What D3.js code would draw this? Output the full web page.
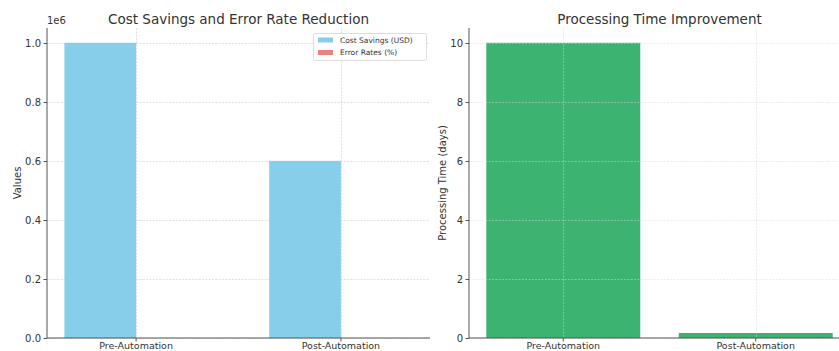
<!DOCTYPE html>
<html>
<head>
<meta charset="utf-8">
<script src="https://cdn.jsdelivr.net/npm/d3@7"></script>
<style>
body{margin:0;background:#fff;}
svg{display:block;font-family:"DejaVu Sans",sans-serif;}
</style>
</head>
<body>
<svg id="chart" width="839" height="351"></svg>
<script>
const categories = ["Pre-Automation", "Post-Automation"];
const costSavings = [1000000, 600000];
const errorRates = [5, 1];
const processingTime = [10, 0.17];
const leftTicks = [0, 0.2, 0.4, 0.6, 0.8, 1.0];
const rightTicks = [0, 2, 4, 6, 8, 10];

const svg = d3.select("#chart");
const textColor = "#333";
const spineColor = "#555";
const gridColor = "#d8d8d8";

function drawAxes(g, x, y, x0, x1, yTop, yBot, yTicks, fmt) {
  g.append("line").attr("x1", x0).attr("x2", x0).attr("y1", yTop).attr("y2", yBot)
    .attr("stroke", spineColor).attr("stroke-width", 1);
  g.append("line").attr("x1", x0).attr("x2", x1).attr("y1", yBot).attr("y2", yBot)
    .attr("stroke", spineColor).attr("stroke-width", 1);
  yTicks.forEach(t => {
    const yy = Math.round(y(t)) + 0.5;
    g.append("line").attr("x1", x0 - 3.5).attr("x2", x0).attr("y1", yy).attr("y2", yy)
      .attr("stroke", spineColor);
    g.append("text").attr("x", x0 - 6).attr("y", yy).attr("dy", "0.35em")
      .attr("text-anchor", "end").attr("font-size", 10).attr("fill", textColor).text(fmt(t));
  });
  categories.forEach((c, i) => {
    const xx = x(i);
    g.append("line").attr("x1", xx).attr("x2", xx).attr("y1", yBot).attr("y2", yBot + 3.5)
      .attr("stroke", spineColor);
    g.append("text").attr("x", xx).attr("y", yBot + 11).attr("text-anchor", "middle")
      .attr("font-size", 9.5).attr("fill", textColor).text(c);
  });
}

function drawGrid(g, x, y, x0, x1, yTop, yBot, yTicks, opacity) {
  yTicks.forEach(t => {
    const yy = Math.round(y(t)) + 0.5;
    g.append("line").attr("x1", x0).attr("x2", x1).attr("y1", yy).attr("y2", yy)
      .attr("stroke", gridColor).attr("stroke-dasharray", "2,1.3").attr("stroke-width", 0.8)
      .attr("opacity", opacity);
  });
  categories.forEach((c, i) => {
    const xx = Math.round(x(i)) + 0.5;
    g.append("line").attr("x1", xx).attr("x2", xx).attr("y1", yTop).attr("y2", yBot)
      .attr("stroke", gridColor).attr("stroke-dasharray", "2,1.3").attr("stroke-width", 0.8)
      .attr("opacity", opacity);
  });
}

// ---------- Left chart ----------
{
  const x0 = 47, x1 = 430, yTop = 28, yBot = 338;
  const bw = 0.35;
  const x = d3.scaleLinear().domain([-bw - 0.085, 1 + bw + 0.085]).range([x0, x1]);
  const y = d3.scaleLinear().domain([0, 1.05e6]).range([yBot, yTop]);
  const g = svg.append("g");
  drawGrid(g, x, v => y(v * 1e6), x0, x1, yTop, yBot, leftTicks, 1);
  g.selectAll(".cs").data(costSavings).enter().append("rect")
    .attr("x", (d, i) => x(i - bw))
    .attr("width", x(bw) - x(0))
    .attr("y", d => y(d)).attr("height", d => yBot - y(d))
    .attr("fill", "#87CEEB");
  g.selectAll(".er").data(errorRates).enter().append("rect")
    .attr("x", (d, i) => x(i))
    .attr("width", x(bw) - x(0))
    .attr("y", d => y(d)).attr("height", d => yBot - y(d))
    .attr("fill", "#F08080");
  drawAxes(g, x, v => y(v * 1e6), x0, x1, yTop, yBot, leftTicks, d3.format(".1f"));
  g.append("text").attr("x", x0).attr("y", 24).attr("font-size", 10).attr("fill", textColor).text("1e6");
  g.append("text").attr("x", (x0 + x1) / 2).attr("y", 23.5).attr("text-anchor", "middle")
    .attr("font-size", 13.5).attr("fill", textColor).text("Cost Savings and Error Rate Reduction");
  g.append("text").attr("transform", `translate(21,${(yTop + yBot) / 2}) rotate(-90)`)
    .attr("text-anchor", "middle").attr("font-size", 10).attr("fill", textColor).text("Values");
  const lg = g.append("g");
  lg.append("rect").attr("x", 313.5).attr("y", 33.5).attr("width", 113).attr("height", 27)
    .attr("fill", "#fff").attr("fill-opacity", 0.8).attr("stroke", "#ddd").attr("rx", 2);
  const items = [["Cost Savings (USD)", "#87CEEB"], ["Error Rates (%)", "#F08080"]];
  items.forEach((it, i) => {
    const cy = 40 + i * 12.5;
    lg.append("rect").attr("x", 318).attr("y", cy - 2.5).attr("width", 15).attr("height", 5).attr("fill", it[1]);
    lg.append("text").attr("x", 340).attr("y", cy).attr("dy", "0.35em")
      .attr("font-size", 7.5).attr("fill", textColor).text(it[0]);
  });
}

// ---------- Right chart ----------
{
  const x0 = 469, x1 = 850, yTop = 28, yBot = 338;
  const bw = 0.8;
  const x = d3.scaleLinear().domain([-bw / 2 - 0.09, 1 + bw / 2 + 0.09]).range([x0, x1]);
  const y = d3.scaleLinear().domain([0, 10.5]).range([yBot, yTop]);
  const g = svg.append("g");
  g.selectAll(".pt").data(processingTime).enter().append("rect")
    .attr("x", (d, i) => x(i - bw / 2))
    .attr("width", x(bw) - x(0))
    .attr("y", d => y(d)).attr("height", d => yBot - y(d))
    .attr("fill", "#3CB371");
  drawGrid(g, x, y, x0, x1, yTop, yBot, rightTicks, 0.6);
  drawAxes(g, x, y, x0, x1, yTop, yBot, rightTicks, d3.format("d"));
  g.append("text").attr("x", (x0 + x1) / 2).attr("y", 23.5).attr("text-anchor", "middle")
    .attr("font-size", 13.5).attr("fill", textColor).text("Processing Time Improvement");
  g.append("text").attr("transform", `translate(446,${(yTop + yBot) / 2}) rotate(-90)`)
    .attr("text-anchor", "middle").attr("font-size", 10).attr("fill", textColor).text("Processing Time (days)");
}
</script>
</body>
</html>
